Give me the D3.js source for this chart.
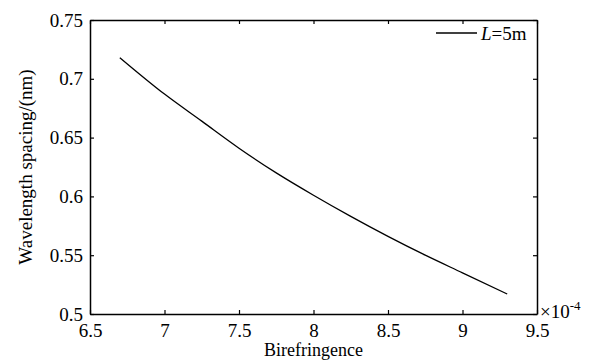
<!DOCTYPE html>
<html>
<head>
<meta charset="utf-8">
<script src="https://cdn.jsdelivr.net/npm/d3@7"></script>
<style>
  body { margin: 0; background: #fff; }
  svg { display: block; }
  text { font-family: "Liberation Serif", "Times New Roman", serif; fill: #000; }
</style>
</head>
<body>
<svg id="chart" width="589" height="361"></svg>
<script>
// birefringence (x 10^-4) and wavelength spacing (nm)
var biref = [6.7, 7.0, 7.25, 7.5, 7.75, 8.0, 8.25, 8.5, 8.75, 9.0, 9.3];
var spacing = [0.718, 0.687, 0.664, 0.641, 0.620, 0.601, 0.583, 0.566, 0.550, 0.535, 0.517];
var xTicks = [6.5, 7, 7.5, 8, 8.5, 9, 9.5];
var yTicks = [0.5, 0.55, 0.6, 0.65, 0.7, 0.75];
var seriesName = "L";

var margin = {left: 90, top: 20, right: 52, bottom: 47};
var width = 589 - margin.left - margin.right;
var height = 361 - margin.top - margin.bottom;

var svg = d3.select("#chart");
var g = svg.append("g").attr("transform", "translate(" + margin.left + "," + margin.top + ")");

var x = d3.scaleLinear().domain([6.5, 9.5]).range([0, width]);
var y = d3.scaleLinear().domain([0.5, 0.75]).range([height, 0]);

var fmt = function(d) { return String(+d.toFixed(2)); };

// bottom axis
var xb = g.append("g").attr("transform", "translate(0," + height + ")")
    .call(d3.axisBottom(x).tickValues(xTicks).tickSizeInner(-4).tickSizeOuter(0).tickPadding(9).tickFormat(fmt));
// top axis mirrored ticks
var xt = g.append("g")
    .call(d3.axisTop(x).tickValues(xTicks).tickSizeInner(-4).tickSizeOuter(0).tickFormat(""));
// left axis
var yl = g.append("g")
    .call(d3.axisLeft(y).tickValues(yTicks).tickSizeInner(-4).tickSizeOuter(0).tickPadding(7).tickFormat(fmt));
// right axis mirrored ticks
var yr = g.append("g").attr("transform", "translate(" + width + ",0)")
    .call(d3.axisRight(y).tickValues(yTicks).tickSizeInner(-4).tickSizeOuter(0).tickFormat(""));

[xb, xt, yl, yr].forEach(function(a) {
    a.selectAll("path").attr("stroke", "#000").attr("stroke-width", 1.5);
    a.selectAll("line").attr("stroke", "#000").attr("stroke-width", 1.2);
    a.selectAll("text").style("font-family", "Liberation Serif").style("font-size", "19px").attr("fill", "#000");
});
xb.selectAll("text").attr("dy", "0.75em");

// curve
var pts = biref.map(function(d, i) { return [d, spacing[i]]; });
g.append("path")
    .datum(pts)
    .attr("fill", "none")
    .attr("stroke", "#000")
    .attr("stroke-width", 1.3)
    .attr("d", d3.line().curve(d3.curveMonotoneX)
        .x(function(d) { return x(d[0]); })
        .y(function(d) { return y(d[1]); }));

// exponent label
var ex = svg.append("text").attr("x", 540).attr("y", 318).style("font-size", "19px");
ex.append("tspan").text("\u00d710");
ex.append("tspan").attr("dy", -8).style("font-size", "13px").text("-4");

// axis titles
svg.append("text")
    .attr("x", margin.left + width / 2).attr("y", 356)
    .attr("text-anchor", "middle").style("font-size", "18px")
    .text("Birefringence");
svg.append("text")
    .attr("transform", "translate(32," + (margin.top + height / 2) + ") rotate(-90)")
    .attr("text-anchor", "middle").style("font-size", "19px")
    .text("Wavelength spacing/(nm)");

// legend
svg.append("line")
    .attr("x1", 436).attr("x2", 477).attr("y1", 33).attr("y2", 33)
    .attr("stroke", "#000").attr("stroke-width", 1.3);
var lg = svg.append("text").attr("x", 481).attr("y", 40).style("font-size", "19px");
lg.append("tspan").style("font-style", "italic").text(seriesName);
lg.append("tspan").text("=5m");
</script>
</body>
</html>
